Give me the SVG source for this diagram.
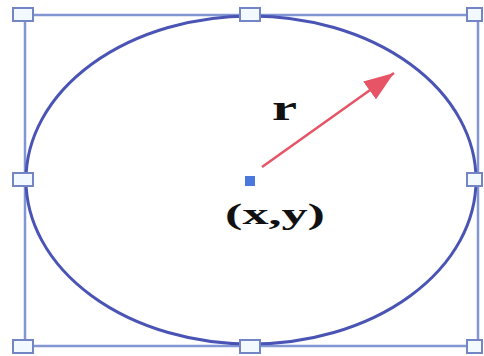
<svg xmlns="http://www.w3.org/2000/svg" width="484" height="356" viewBox="0 0 484 356">
  <style>
    .frame { fill: none; stroke: #8196d2; stroke-width: 2.5; }
    .circle { fill: none; stroke: #4a54b4; stroke-width: 3; }
    .handle { fill: #f2faff; stroke: #7385c4; stroke-width: 2; }
    .label { font-family: "Liberation Serif", "Times New Roman", serif; font-weight: bold; fill: #111111; }
    .arrow { stroke: #e65466; stroke-width: 2.5; fill: none; }
  </style>
  <defs>
    <marker id="ah" viewBox="0 0 12 10" refX="11" refY="5" markerWidth="12" markerHeight="10" markerUnits="userSpaceOnUse" orient="auto">
      <path d="M0,0 L12,5 L0,10 Z" fill="#e65466"/>
    </marker>
    <marker id="ahbig" viewBox="0 0 30 22" refX="30" refY="11" markerWidth="30" markerHeight="22" markerUnits="userSpaceOnUse" orient="auto">
      <path d="M0,0 L30,11 L0,22 Z" fill="#e65466"/>
    </marker>
  </defs>

  <g id="frame">
    <rect class="frame" x="25" y="15" width="453" height="331"/>
  </g>

  <g id="circle">
    <ellipse class="circle" cx="251" cy="180" rx="225" ry="164"/>
  </g>

  <g id="handles">
    <rect class="handle" x="13" y="8" width="20" height="13"/>
    <rect class="handle" x="240" y="8" width="20" height="13"/>
    <rect class="handle" x="467" y="8" width="15" height="13"/>
    <rect class="handle" x="13" y="173" width="20" height="13"/>
    <rect class="handle" x="467" y="173" width="15" height="13"/>
    <rect class="handle" x="13" y="340" width="20" height="13"/>
    <rect class="handle" x="240" y="340" width="20" height="13"/>
    <rect class="handle" x="467" y="340" width="15" height="13"/>
  </g>

  <g id="center">
    <rect x="245" y="176" width="10" height="10" fill="#4a78dc"/>
  </g>

  <g id="connectors">
    <line class="arrow" x1="262" y1="167" x2="394" y2="73" marker-end="url(#ahbig)"/>
  </g>

  <g id="label-r">
    <text class="label" x="272" y="120" font-size="36" textLength="25" lengthAdjust="spacingAndGlyphs">r</text>
  </g>
  <g id="label-xy">
    <text class="label" x="225" y="224" font-size="30" textLength="100" lengthAdjust="spacingAndGlyphs">(x,y)</text>
  </g>
</svg>
